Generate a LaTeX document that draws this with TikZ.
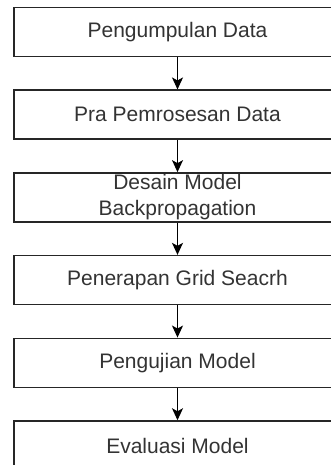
\documentclass[tikz,border=0pt]{standalone}
\usepackage{fontspec}
\setmainfont{Liberation Sans}
\usepackage{tikz}
\usetikzlibrary{arrows.meta}
\usetikzlibrary{positioning}
\tikzstyle{stage}=[rectangle,draw=black!85,line width=1.5pt,fill=white,minimum width=327pt,minimum height=49pt,inner sep=0pt,align=center,font=\fontsize{21}{26}\selectfont,text=black!80]
\tikzstyle{flow}=[-{Stealth[length=12pt,width=11pt,inset=3pt]},line width=1.3pt,draw=black]
\tikzset{every picture/.style={
    x=1pt,y=1pt
  }
}

\begin{document}
\begin{tikzpicture}
          \useasboundingbox (0,0) rectangle (331,-465);
          \node[stage] at (177.5,-32) (kumpul) {Pengumpulan Data};
          \node[stage] at (177.5,-114.7) (pra) {Pra Pemrosesan Data};
          \node[stage] at (177.5,-197.4) (desain) {Desain Model\\Backpropagation};
          \node[stage] at (177.5,-280.1) (grid) {Penerapan Grid Seacrh};
          \node[stage] at (177.5,-362.8) (uji) {Pengujian Model};
          \node[stage] at (177.5,-445.5) (eval) {Evaluasi Model};
          \draw[flow] (kumpul)--(pra);
          \draw[flow] (pra)--(desain);
          \draw[flow] (desain)--(grid);
          \draw[flow] (grid)--(uji);
          \draw[flow] (uji)--(eval);
        \end{tikzpicture}
\end{document}
